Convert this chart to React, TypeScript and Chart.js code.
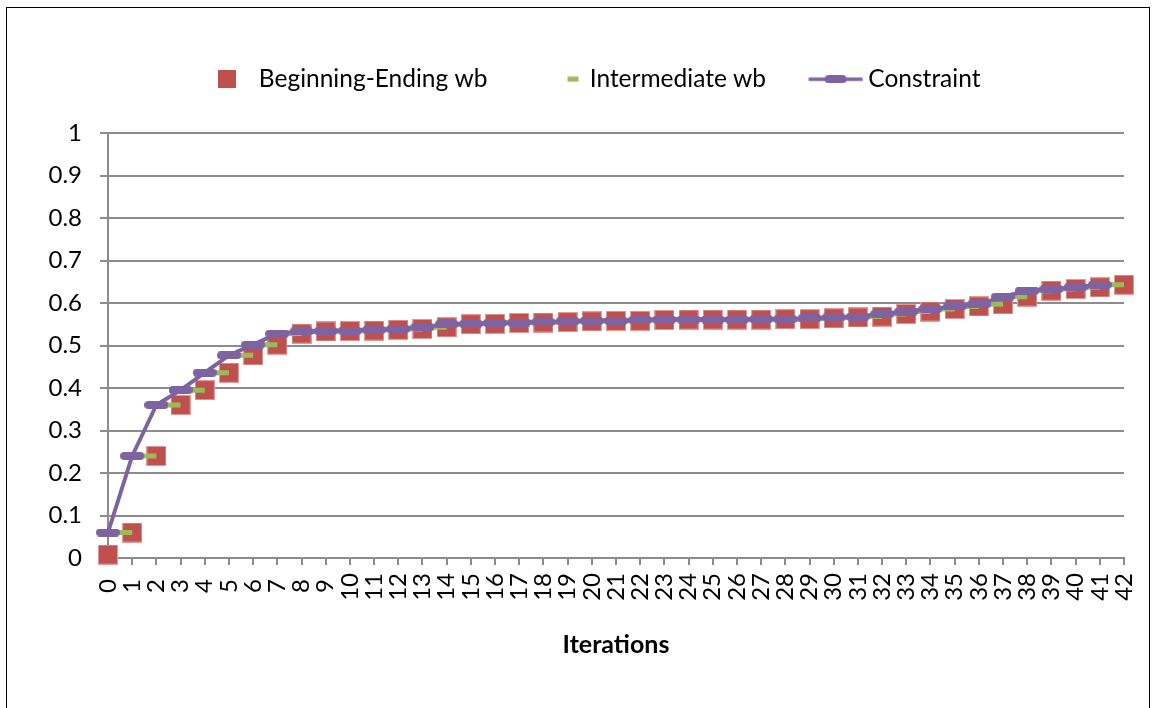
import React, { useEffect, useRef } from 'react';
import { Chart, registerables } from 'chart.js';

Chart.register(...registerables);

const categories = ['0', '1', '2', '3', '4', '5', '6', '7', '8', '9', '10', '11', '12', '13', '14', '15', '16', '17', '18', '19', '20', '21', '22', '23', '24', '25', '26', '27', '28', '29', '30', '31', '32', '33', '34', '35', '36', '37', '38', '39', '40', '41', '42'];

const yTickLabels = ['0', '0.1', '0.2', '0.3', '0.4', '0.5', '0.6', '0.7', '0.8', '0.9', '1'];

const seriesNames = ['Beginning-Ending wb', 'Intermediate wb', 'Constraint'];

// Red squares, one per iteration 0..42
const beginningEnding = [0.008, 0.06, 0.24, 0.36, 0.395, 0.436, 0.477, 0.502, 0.528, 0.533, 0.534, 0.535, 0.537, 0.539, 0.543, 0.55, 0.551, 0.553, 0.554, 0.555, 0.557, 0.558, 0.558, 0.56, 0.561, 0.561, 0.561, 0.561, 0.562, 0.562, 0.564, 0.566, 0.568, 0.574, 0.58, 0.586, 0.592, 0.597, 0.615, 0.629, 0.633, 0.637, 0.643];

// Green level held between iteration i and i+1
const intermediate = [0.06, 0.24, 0.36, 0.395, 0.436, 0.477, 0.502, 0.528, 0.533, 0.534, 0.535, 0.537, 0.539, 0.543, 0.55, 0.551, 0.553, 0.554, 0.555, 0.557, 0.558, 0.558, 0.56, 0.561, 0.561, 0.561, 0.561, 0.562, 0.562, 0.564, 0.566, 0.568, 0.574, 0.58, 0.586, 0.592, 0.597, 0.615, 0.629, 0.633, 0.637, 0.643];

// Purple constraint at iterations 0..41
const constraint = [0.06, 0.24, 0.36, 0.395, 0.436, 0.477, 0.502, 0.528, 0.533, 0.534, 0.535, 0.537, 0.539, 0.543, 0.55, 0.551, 0.553, 0.554, 0.555, 0.557, 0.558, 0.558, 0.56, 0.561, 0.561, 0.561, 0.561, 0.562, 0.562, 0.564, 0.566, 0.568, 0.574, 0.58, 0.586, 0.592, 0.597, 0.615, 0.629, 0.633, 0.637, 0.643];

const RED = '#C0504D';
const GREEN = '#9BBB59';
const PURPLE = '#7F63A1';
const GRID = '#8C8C8C';
const FONT = 'Lato, "Open Sans", "DejaVu Sans", sans-serif';
const LEGEND_SHIFT = 28;

function makeImage(w: number, h: number, draw: (ctx: CanvasRenderingContext2D) => void) {
  const c = document.createElement('canvas');
  c.width = w;
  c.height = h;
  const ctx = c.getContext('2d') as CanvasRenderingContext2D;
  draw(ctx);
  return c;
}

function roundRect(ctx: CanvasRenderingContext2D, x: number, y: number, w: number, h: number, r: number) {
  ctx.beginPath();
  ctx.moveTo(x + r, y);
  ctx.lineTo(x + w - r, y);
  ctx.arc(x + w - r, y + r, r, -Math.PI / 2, 0);
  ctx.lineTo(x + w, y + h - r);
  ctx.arc(x + w - r, y + h - r, r, 0, Math.PI / 2);
  ctx.lineTo(x + r, y + h);
  ctx.arc(x + r, y + h - r, r, Math.PI / 2, Math.PI);
  ctx.lineTo(x, y + r);
  ctx.arc(x + r, y + r, r, Math.PI, Math.PI * 1.5);
  ctx.closePath();
}

const legendShiftPlugin = {
  id: 'legendShift',
  afterLayout(chart: any) {
    const lg = chart.legend;
    if (lg) {
      lg.left += LEGEND_SHIFT;
      lg.right += LEGEND_SHIFT;
    }
  },
};

export default function App() {
  const ref = useRef<HTMLCanvasElement>(null);

  useEffect(() => {
    const canvas = ref.current;
    if (!canvas) return;

    const redPoint = makeImage(20, 20, (ctx) => {
      ctx.fillStyle = RED;
      ctx.fillRect(0, 0, 20, 20);
      ctx.strokeStyle = 'rgba(230,160,158,0.9)';
      ctx.lineWidth = 1;
      ctx.strokeRect(0.5, 0.5, 19, 19);
    });
    const purplePoint = makeImage(24, 8, (ctx) => {
      ctx.fillStyle = PURPLE;
      roundRect(ctx, 0, 0, 24, 8, 4);
      ctx.fill();
    });

    const legendRed = makeImage(18, 18, (ctx) => {
      ctx.fillStyle = RED;
      ctx.fillRect(0, 0, 18, 18);
    });
    const legendGreen = makeImage(44, 6, (ctx) => {
      ctx.fillStyle = GREEN;
      ctx.fillRect(32, 0.5, 11, 5);
    });
    const legendPurple = makeImage(60, 8, (ctx) => {
      ctx.strokeStyle = PURPLE;
      ctx.lineWidth = 3.5;
      ctx.beginPath();
      ctx.moveTo(2.5, 4);
      ctx.lineTo(56.5, 4);
      ctx.stroke();
      ctx.fillStyle = PURPLE;
      roundRect(ctx, 18.5, 0, 22, 8, 4);
      ctx.fill();
    });
    const legendImages = [legendRed, legendGreen, legendPurple];

    const greenPoints: { x: number; y: number | null }[] = [];
    intermediate.forEach((v, i) => {
      greenPoints.push({ x: i, y: v }, { x: i + 1, y: v }, { x: i + 1, y: null });
    });

    const chart = new Chart(canvas, {
      type: 'line',
      data: {
        datasets: [
          {
            label: seriesNames[0],
            data: beginningEnding.map((v, i) => ({ x: i, y: v })),
            showLine: false,
            pointStyle: redPoint as any,
            pointRadius: 10,
            backgroundColor: RED,
            borderColor: RED,
            order: 3,
            clip: false as any,
          },
          {
            label: seriesNames[1],
            data: greenPoints as any,
            borderColor: GREEN,
            backgroundColor: GREEN,
            borderWidth: 5,
            borderCapStyle: 'butt',
            pointRadius: 0,
            spanGaps: false,
            order: 2,
            clip: false as any,
          },
          {
            label: seriesNames[2],
            data: constraint.map((v, i) => ({ x: i, y: v })),
            borderColor: PURPLE,
            backgroundColor: PURPLE,
            borderWidth: 4,
            borderJoinStyle: 'round',
            pointStyle: purplePoint as any,
            pointRadius: 12,
            tension: 0,
            order: 1,
            clip: false as any,
          },
        ],
      },
      options: {
        responsive: false,
        animation: false,
        events: [],
        layout: { padding: { top: 9, left: 0, right: 25, bottom: 30 } },
        plugins: {
          tooltip: { enabled: false },
          subtitle: {
            display: true,
            text: '',
            position: 'top',
            weight: 500,
            font: { size: 11.5, lineHeight: 1 },
            padding: { top: 10, bottom: 10 },
          },
          legend: {
            display: true,
            position: 'top',
            labels: {
              usePointStyle: true,
              pointStyleWidth: 40,
              padding: 50,
              color: '#000',
              font: { family: FONT, size: 24.5 },
              generateLabels: () =>
                seriesNames.map((name, i) => ({
                  text: name,
                  pointStyle: legendImages[i] as any,
                  datasetIndex: i,
                  hidden: false,
                  lineWidth: 0,
                  fillStyle: 'rgba(0,0,0,0)',
                  strokeStyle: 'rgba(0,0,0,0)',
                })),
            },
          },
        },
        scales: {
          x: {
            type: 'linear',
            min: 0,
            max: 42,
            ticks: {
              stepSize: 1,
              autoSkip: false,
              maxRotation: 90,
              minRotation: 90,
              padding: 8,
              color: '#000',
              font: { family: FONT, size: 24, lineHeight: 0.5 },
              callback: (_v: any, i: number) => (categories[i].length < 2 ? categories[i] + ' ' : categories[i]),
            },
            grid: { drawOnChartArea: false, drawTicks: true, tickLength: 7, color: GRID, lineWidth: 2 },
            border: { display: true, color: GRID, width: 2 },
            title: {
              display: true,
              text: 'Iterations',
              color: '#000',
              font: { family: FONT, size: 25, weight: 'bold' },
              padding: { top: 0, bottom: 18 },
            },
            afterFit: (s: any) => {
              s.height = 120;
            },
          },
          y: {
            type: 'linear',
            min: 0,
            max: 1,
            ticks: {
              stepSize: 0.1,
              padding: 18,
              color: '#000',
              font: { family: FONT, size: 24 },
              callback: (_v: any, i: number) => yTickLabels[i],
            },
            grid: { color: GRID, lineWidth: 2, tickLength: 8 },
            border: { display: true, color: GRID, width: 2 },
            afterFit: (s: any) => {
              s.width = 101;
            },
          },
        },
      } as any,
      plugins: [legendShiftPlugin],
    });

    return () => chart.destroy();
  }, []);

  return (
    <div
      style={{
        position: 'absolute',
        left: 6,
        top: 7,
        width: 1142,
        height: 700,
        border: '1px solid #000',
        background: '#fff',
      }}
    >
      <canvas ref={ref} width={1142} height={700} style={{ display: 'block' }} />
    </div>
  );
}
